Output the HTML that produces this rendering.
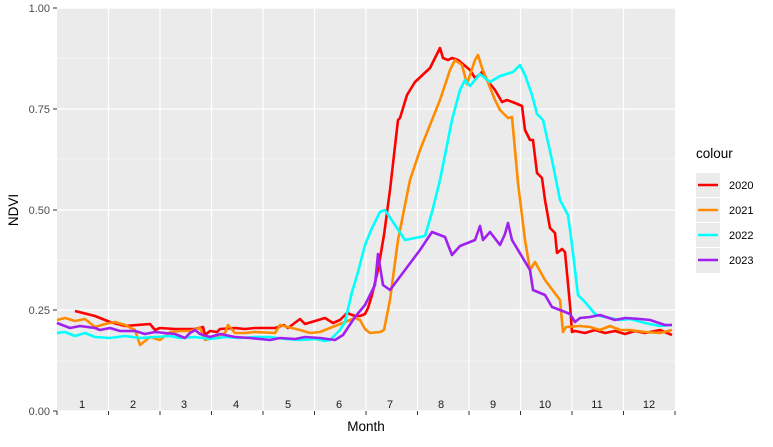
<!DOCTYPE html>
<html><head><meta charset="utf-8"><style>body{margin:0;background:#fff}</style></head>
<body>
<svg width="773" height="442" xmlns="http://www.w3.org/2000/svg" font-family="Liberation Sans, sans-serif">
<rect x="57" y="8" width="618" height="403" fill="#ebebeb"/>
<g stroke="#fff" stroke-width="0.6">
<line x1="57" x2="675" y1="361" y2="361"/><line x1="57" x2="675" y1="260" y2="260"/><line x1="57" x2="675" y1="159" y2="159"/><line x1="57" x2="675" y1="58" y2="58"/>
</g>
<g stroke="#fff" stroke-width="1.2">
<line x1="57" x2="675" y1="411" y2="411"/><line x1="57" x2="675" y1="310" y2="310"/><line x1="57" x2="675" y1="210" y2="210"/><line x1="57" x2="675" y1="109" y2="109"/><line x1="57" x2="675" y1="8" y2="8"/>
<line x1="108.5" x2="108.5" y1="8" y2="411"/><line x1="160" x2="160" y1="8" y2="411"/><line x1="211.5" x2="211.5" y1="8" y2="411"/><line x1="263" x2="263" y1="8" y2="411"/><line x1="314.5" x2="314.5" y1="8" y2="411"/><line x1="366" x2="366" y1="8" y2="411"/><line x1="417.5" x2="417.5" y1="8" y2="411"/><line x1="469" x2="469" y1="8" y2="411"/><line x1="520.5" x2="520.5" y1="8" y2="411"/><line x1="572" x2="572" y1="8" y2="411"/><line x1="623.5" x2="623.5" y1="8" y2="411"/>
</g>
<g fill="none" stroke-width="2.6" stroke-linejoin="round">
<polyline stroke="#ff0000" points="75,311 95,316 110,322 125,326 150,324 155,330 160,328 175,329 195,329 203,327 205,335 210,331 217,332 220,329 235,328 245,329 255,328 275,328 284,325 288,328 296,322 300,319 305,324 315,321 325,318 333,323 340,320 347,313 355,316 360,316 365,314 368,308 372,295 378,270 384,235 390,190 398,120 400,118 407,95 415,82 430,68 440,48 443,58 448,60 452,58 458,60 470,70 475,78 478,76 482,72 487,80 495,90 502,102 507,100 515,103 522,106 525,130 530,140 533,140 537,173 542,178 545,200 550,228 555,233 557,253 562,249 565,252 570,305 572,332 575,331 585,333 595,330 605,333 615,331 625,334 635,331 645,333 660,330 672,335"/>
<polyline stroke="#ff8c00" points="57,320 65,318 75,321 85,319 95,327 105,324 115,322 125,325 135,330 140,345 150,337 160,340 170,332 180,331 190,331 200,328 205,340 215,337 225,333 228,325 235,333 245,333 255,332 275,333 280,325 300,330 310,333 320,332 330,328 345,322 355,318 360,320 365,329 370,333 380,332 384,330 390,300 398,240 410,180 420,150 440,100 450,70 455,60 462,65 467,84 475,60 478,55 482,68 487,80 495,100 500,110 508,118 512,117 518,183 525,240 530,270 535,262 545,280 560,300 563,332 566,327 580,326 590,327 600,330 610,326 620,330 630,330 645,332 660,333 672,330"/>
<polyline stroke="#00ffff" points="57,333 65,332 75,336 85,333 95,337 110,338 125,336 140,338 155,337 170,336 180,338 195,337 210,339 225,337 240,338 255,337 270,337 285,339 300,340 315,339 325,341 330,340 340,330 345,322 352,292 358,272 365,245 372,228 380,212 385,210 405,240 425,236 432,212 440,180 452,120 460,90 465,80 470,86 480,74 490,82 500,76 513,72 520,65 525,75 532,95 537,114 543,120 552,160 560,200 568,215 572,245 578,295 585,302 595,314 600,316 610,318 620,320 630,319 645,323 660,326 672,325"/>
<polyline stroke="#a020f0" points="57,323 70,328 80,326 95,328 100,330 110,328 120,331 135,331 145,334 155,332 165,333 175,334 185,338 190,333 195,330 200,334 210,337 220,334 235,337 250,338 260,339 270,340 280,338 295,339 305,337 320,338 335,340 343,335 355,317 365,305 375,285 378,254 383,285 390,290 405,270 420,250 432,232 445,237 452,255 460,246 475,240 480,226 483,240 490,232 500,245 505,234 508,223 512,240 530,270 533,290 545,295 552,307 560,310 570,314 575,322 580,318 590,317 600,315 615,320 625,318 640,319 650,320 665,325 672,325"/>
</g>
<g font-size="11" fill="#1a1a1a" text-anchor="middle">
<text x="82" y="408">1</text><text x="133" y="408">2</text><text x="184" y="408">3</text><text x="236" y="408">4</text><text x="288" y="408">5</text><text x="339" y="408">6</text><text x="390" y="408">7</text><text x="441" y="408">8</text><text x="493" y="408">9</text><text x="545" y="408">10</text><text x="597" y="408">11</text><text x="649" y="408">12</text>
</g>
<g stroke="#333" stroke-width="1">
<line x1="53" x2="57" y1="411" y2="411"/><line x1="53" x2="57" y1="310" y2="310"/><line x1="53" x2="57" y1="210" y2="210"/><line x1="53" x2="57" y1="109" y2="109"/><line x1="53" x2="57" y1="8" y2="8"/>
<line x1="57" x2="57" y1="411" y2="415"/><line x1="108.5" x2="108.5" y1="411" y2="415"/><line x1="160" x2="160" y1="411" y2="415"/><line x1="211.5" x2="211.5" y1="411" y2="415"/><line x1="263" x2="263" y1="411" y2="415"/><line x1="314.5" x2="314.5" y1="411" y2="415"/><line x1="366" x2="366" y1="411" y2="415"/><line x1="417.5" x2="417.5" y1="411" y2="415"/><line x1="469" x2="469" y1="411" y2="415"/><line x1="520.5" x2="520.5" y1="411" y2="415"/><line x1="572" x2="572" y1="411" y2="415"/><line x1="623.5" x2="623.5" y1="411" y2="415"/><line x1="675" x2="675" y1="411" y2="415"/>
</g>
<g font-size="11" fill="#4d4d4d" text-anchor="end">
<text x="50" y="415">0.00</text><text x="50" y="314">0.25</text><text x="50" y="214">0.50</text><text x="50" y="113">0.75</text><text x="50" y="12">1.00</text>
</g>
<text x="366" y="431" font-size="13.5" text-anchor="middle" fill="#000">Month</text>
<text transform="translate(18,210) rotate(-90)" font-size="13.5" text-anchor="middle" fill="#000">NDVI</text>
<text x="696" y="158" font-size="13.5" fill="#000">colour</text>
<g>
<rect x="696" y="173" width="24" height="100" fill="#ebebeb"/>
<line x1="698" x2="718" y1="185" y2="185" stroke="#ff0000" stroke-width="2.6"/>
<line x1="698" x2="718" y1="210" y2="210" stroke="#ff8c00" stroke-width="2.6"/>
<line x1="698" x2="718" y1="235" y2="235" stroke="#00ffff" stroke-width="2.6"/>
<line x1="698" x2="718" y1="260" y2="260" stroke="#a020f0" stroke-width="2.6"/>
<line x1="696" x2="720" y1="197.5" y2="197.5" stroke="#fff" stroke-width="1"/>
<line x1="696" x2="720" y1="222.5" y2="222.5" stroke="#fff" stroke-width="1"/>
<line x1="696" x2="720" y1="247.5" y2="247.5" stroke="#fff" stroke-width="1"/>
</g>
<g font-size="11" fill="#000">
<text x="729" y="189">2020</text><text x="729" y="214">2021</text><text x="729" y="239">2022</text><text x="729" y="264">2023</text>
</g>
</svg>
</body></html>
